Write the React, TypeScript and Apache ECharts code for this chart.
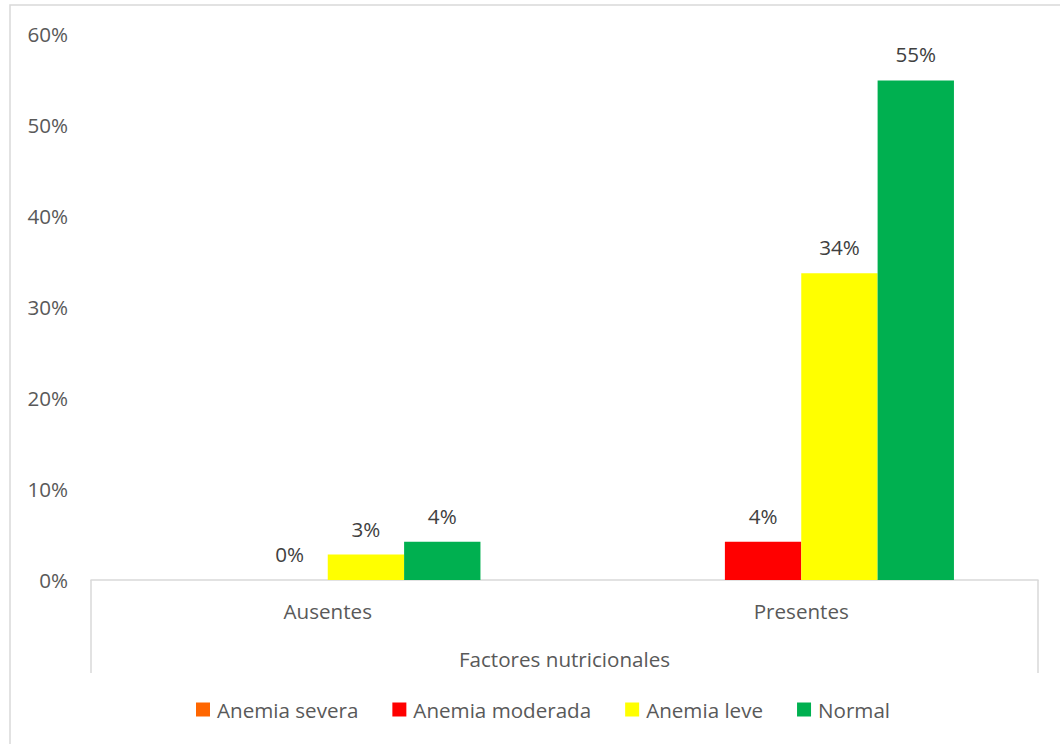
import React, { useEffect, useRef } from "react";
import * as echarts from "echarts";

// Categories and series values (percent)
const categories = ["Ausentes", "Presentes"];
const seriesNames = ["Anemia severa", "Anemia moderada", "Anemia leve", "Normal"];
const anemiaSevera: (number | null)[] = [null, null];
const anemiaModerada: (number | null)[] = [0, 4.2];
const anemiaLeve: (number | null)[] = [2.8, 33.7];
const normal: (number | null)[] = [4.2, 54.9];
const seriesColors = ["#FF6600", "#FF0000", "#FFFF00", "#00B050"];
const yTicks = { min: 0, max: 60, interval: 10 };

const FONT = "'Open Sans', 'Noto Sans', sans-serif";
const FONT_SIZE = 20.6;
const AXIS_GRAY = "#D9D9D9";

export default function App() {
  const ref = useRef<HTMLDivElement>(null);

  useEffect(() => {
    if (!ref.current) return;
    const chart = echarts.init(ref.current, undefined, { renderer: "svg" });
    const values = [anemiaSevera, anemiaModerada, anemiaLeve, normal];

    chart.setOption({
      animation: false,
      backgroundColor: "#FFFFFF",
      textStyle: { fontFamily: FONT },
      grid: { left: 91, right: 22, top: 34, bottom: 164, containLabel: false },
      legend: {
        data: seriesNames,
        left: 191,
        top: 694,
        icon: "rect",
        itemWidth: 14,
        itemHeight: 14,
        itemGap: 34,
        textStyle: { color: "#595959", fontSize: FONT_SIZE, fontFamily: FONT, padding: [0, 0, 0, 2] },
      },
      xAxis: [
        {
          type: "category",
          data: categories,
          position: "bottom",
          axisLine: { show: true, lineStyle: { color: AXIS_GRAY, width: 1.5 } },
          axisTick: { show: false },
          axisLabel: { color: "#595959", fontSize: FONT_SIZE, margin: 20 },
          name: "Factores nutricionales",
          nameLocation: "middle",
          nameGap: 79,
          nameTextStyle: { color: "#595959", fontSize: FONT_SIZE, verticalAlign: "middle" },
          splitLine: { show: false },
        },
        {
          // outer frame lines below the category axis
          type: "value",
          position: "bottom",
          min: 0,
          max: 1,
          interval: 1,
          axisLine: { show: false },
          axisTick: { show: true, length: 93, lineStyle: { color: AXIS_GRAY, width: 1.5 } },
          axisLabel: { show: false },
          splitLine: { show: false },
        },
      ],
      yAxis: {
        type: "value",
        min: yTicks.min,
        max: yTicks.max,
        interval: yTicks.interval,
        axisLine: { show: false },
        axisTick: { show: false },
        splitLine: { show: false },
        axisLabel: { color: "#595959", fontSize: FONT_SIZE, margin: 23, formatter: "{value}%" },
      },
      graphic: [
        {
          type: "polyline",
          shape: { points: [[10, 744], [10, 5], [1060, 5]] },
          style: { stroke: AXIS_GRAY, lineWidth: 1.5, fill: "none" },
          silent: true,
        },
      ],
      series: seriesNames.map((name, i) => ({
        name,
        type: "bar",
        xAxisIndex: 0,
        data: values[i],
        barGap: "0%",
        barCategoryGap: "35.5%",
        itemStyle: { color: seriesColors[i] },
        label: {
          show: true,
          position: "top",
          distance: 15.5,
          color: "#404040",
          fontSize: FONT_SIZE,
          fontFamily: FONT,
          formatter: (p: any) => `${Math.round(p.value)}%`,
        },
      })),
    });

    return () => chart.dispose();
  }, []);

  return (
    <div
      ref={ref}
      style={{ position: "fixed", left: 0, top: 0, width: 1060, height: 744 }}
    />
  );
}
